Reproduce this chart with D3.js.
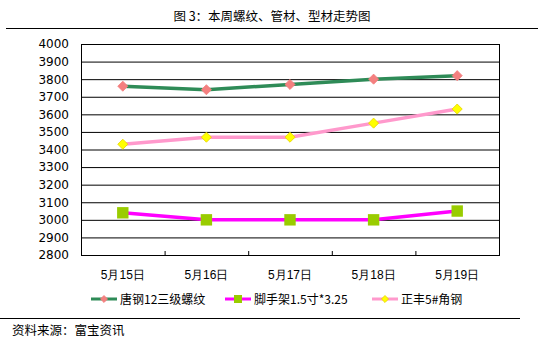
<!DOCTYPE html>
<html>
<head>
<meta charset="utf-8">
<script src="https://cdn.jsdelivr.net/npm/d3@7"></script>
<style>
  html, body { margin: 0; padding: 0; background: #fff; }
  svg { display: block; font-family: "Noto Sans CJK SC", "DejaVu Sans", sans-serif; }
</style>
</head>
<body>
<svg id="chart" width="544" height="352"></svg>
<script>
const dates = ["5月15日", "5月16日", "5月17日", "5月18日", "5月19日"];
const tanggang = [3760, 3740, 3770, 3800, 3820];
const jiaoshoujia = [3040, 3000, 3000, 3000, 3050];
const zhengfeng = [3430, 3470, 3470, 3550, 3630];
const yTicks = d3.range(2800, 4001, 100);

const series = [
    { name: "唐钢12三级螺纹", values: tanggang, line: "#2e8b57", marker: "diamond", fill: "#f47f7f", stroke: "#f47f7f" },
    { name: "脚手架1.5寸*3.25", values: jiaoshoujia, line: "#ff00ff", marker: "square", fill: "#99cc00", stroke: "#99cc00" },
    { name: "正丰5#角钢", values: zhengfeng, line: "#ff99cc", marker: "diamond", fill: "#ffff00", stroke: "#e6d200" }
];

const svg = d3.select("#chart");
const m = { top: 44, right: 45, bottom: 97, left: 81 };
const W = 544, H = 352;
const w = W - m.left - m.right;
const h = H - m.top - m.bottom;

// title + rules
svg.append("text").attr("x", 272).attr("y", 21).attr("text-anchor", "middle")
    .attr("font-size", 12.5).attr("fill", "#000").text("图 3：本周螺纹、管材、型材走势图");
svg.append("line").attr("x1", 6).attr("x2", 538).attr("y1", 28.5).attr("y2", 28.5)
    .attr("stroke", "#000").attr("stroke-width", 1);
svg.append("line").attr("x1", 0).attr("x2", 520).attr("y1", 318.5).attr("y2", 318.5)
    .attr("stroke", "#000").attr("stroke-width", 1);
svg.append("text").attr("x", 12).attr("y", 335).attr("font-size", 12.5).attr("fill", "#000")
    .text("资料来源：富宝资讯");

const g = svg.append("g").attr("transform", `translate(${m.left},${m.top})`);

const x = d3.scaleBand().domain(dates).range([0, w]);
const y = d3.scaleLinear().domain([2800, 4000]).range([h, 0]);
const cx = d => x(d) + x.bandwidth() / 2;

// grid
g.append("g")
    .call(d3.axisLeft(y).tickValues(yTicks).tickSize(-w).tickFormat(""))
    .call(s => s.select(".domain").remove())
    .call(s => s.selectAll("line").attr("stroke", "#000").attr("stroke-width", 1));

// frame
g.append("rect").attr("x", 0.5).attr("y", 0.5).attr("width", w).attr("height", h)
    .attr("fill", "none").attr("stroke", "#000").attr("stroke-width", 1);

// y labels
g.append("g")
    .call(d3.axisLeft(y).tickValues(yTicks).tickSize(0).tickPadding(12).tickFormat(d3.format("d")))
    .call(s => s.select(".domain").remove())
    .call(s => s.selectAll("text").attr("font-size", 12).attr("fill", "#000")
        .attr("font-family", "'DejaVu Sans', sans-serif"));

// x axis: ticks sit on the band edges
g.append("g").attr("transform", `translate(0,${h})`)
    .call(d3.axisBottom(x).tickSize(0).tickPadding(15))
    .call(s => s.select(".domain").remove())
    .call(s => s.selectAll("text").attr("font-size", 12).attr("fill", "#000"));
g.append("g").selectAll("line").data(dates.slice(1)).join("line")
    .attr("x1", d => x(d) + 0.5).attr("x2", d => x(d) + 0.5)
    .attr("y1", h).attr("y2", h - 4).attr("stroke", "#000");

function drawMarker(sel, s, px, py, size) {
    if (s.marker === "diamond") {
        sel.append("path")
            .attr("d", d3.symbol().type(d3.symbolDiamond2).size(size * 0.5)())
            .attr("transform", `translate(${px},${py})`)
            .attr("fill", s.fill).attr("stroke", s.stroke).attr("stroke-width", 0.8);
    } else {
        const a = Math.sqrt(size);
        sel.append("rect").attr("x", px - a / 2).attr("y", py - a / 2)
            .attr("width", a).attr("height", a).attr("fill", s.fill);
    }
}

const line = d3.line().x((d, i) => cx(dates[i])).y(d => y(d));
series.forEach(s => {
    g.append("path").datum(s.values)
        .attr("fill", "none").attr("stroke", s.line).attr("stroke-width", 3.5)
        .attr("d", line);
});
series.forEach(s => {
    s.values.forEach((v, i) => drawMarker(g, s, cx(dates[i]), y(v), 130));
});

// legend
const legendX = [91, 225, 372];
series.forEach((s, i) => {
    const lg = svg.append("g").attr("transform", `translate(${legendX[i]},299)`);
    lg.append("line").attr("x1", 0).attr("x2", 26).attr("y1", 0).attr("y2", 0)
        .attr("stroke", s.line).attr("stroke-width", 3);
    drawMarker(lg, s, 13, 0, 64);
    lg.append("text").attr("x", 29).attr("y", 4.5).attr("font-size", 12).attr("fill", "#000")
        .text(s.name);
});
</script>
</body>
</html>
